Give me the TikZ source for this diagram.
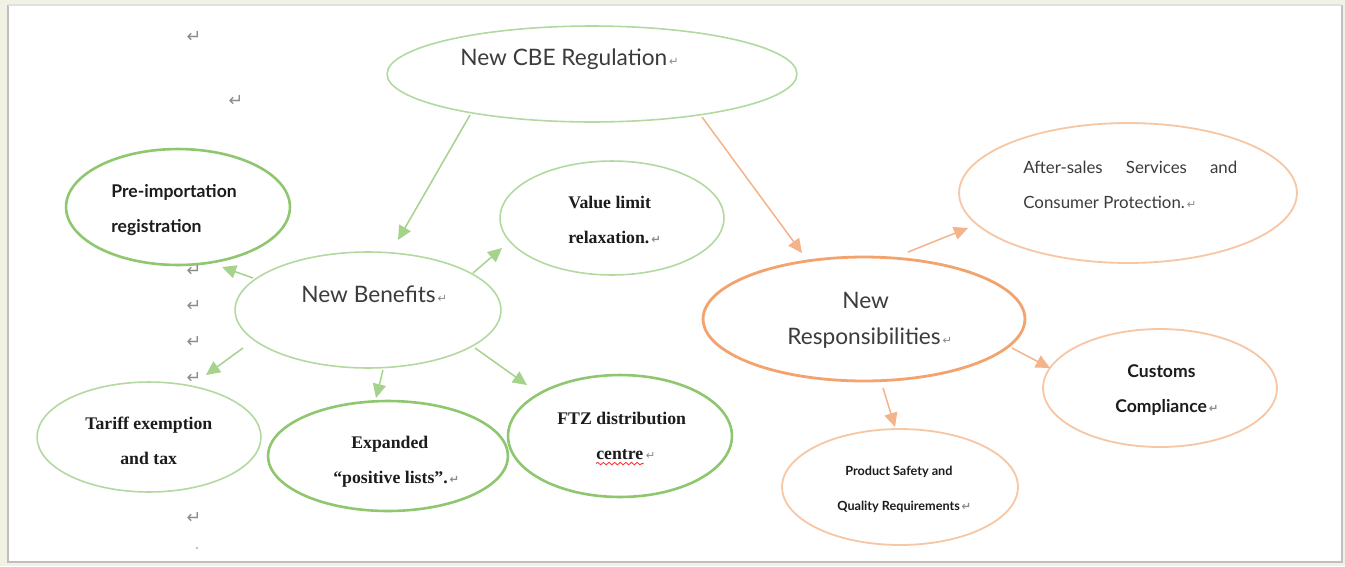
\documentclass[tikz,border=0pt]{standalone}
\usepackage{fontspec}
\setmainfont{Lato}
\newfontfamily\serifb{Liberation Serif}
\newfontfamily\symfont{DejaVu Sans}
\usetikzlibrary{shapes.geometric,arrows.meta,decorations.pathmorphing}
\definecolor{cream}{HTML}{F2F2E4}
\definecolor{lgreen}{HTML}{B3D9A0}
\definecolor{mgreen}{HTML}{8FC770}
\definecolor{agreen}{HTML}{A5D38C}
\definecolor{dorange}{HTML}{F2A36E}
\definecolor{lorange}{HTML}{F7C6A3}
\definecolor{aorange}{HTML}{F5B38A}
\definecolor{tgray}{HTML}{3C3C3C}
\definecolor{tblack}{HTML}{1C1C1C}
\definecolor{pmgray}{HTML}{8C8C8C}
\newcommand\retmark{{\symfont\fontsize{6.5}{6.5}\selectfont\color{pmgray}\,↵}}
\begin{document}
\begin{tikzpicture}[x=0.02cm,y=-0.02cm,
  ellsize/.style 2 args={ellipse, inner sep=0pt, minimum width=#1*0.04cm, minimum height=#2*0.04cm},
  gthin/.style={draw=lgreen, line width=1.6pt*0.569},
  gthick/.style={draw=mgreen, line width=2.6pt*0.569},
  othick/.style={draw=dorange, line width=2.8pt*0.569},
  othin/.style={draw=lorange, line width=1.8pt*0.569},
  garr/.style={draw=agreen, line width=0.85pt, -{Triangle[length=8pt,width=7.5pt]}},
  oarr/.style={draw=aorange, line width=0.85pt, -{Triangle[length=8pt,width=7.5pt]}},
  tbig/.style={font=\fontsize{12.9}{15}\selectfont, text=tgray, inner sep=0pt, anchor=base west},
  tmid/.style={font=\fontsize{9.6}{11}\selectfont, text=tgray, inner sep=0pt, anchor=base west},
  bsans/.style={font=\bfseries\fontsize{10}{12}\selectfont, text=tblack, inner sep=0pt, anchor=base west},
  bsmall/.style={font=\bfseries\fontsize{7.2}{9}\selectfont, text=tblack, inner sep=0pt, anchor=base west},
  bserif/.style={font=\serifb\bfseries\fontsize{10.1}{12}\selectfont, text=tblack, inner sep=0pt, anchor=base west},
  rm/.style={font=\symfont\fontsize{10}{10}\selectfont, text=pmgray, inner sep=0pt}
]
% page background
\fill[cream] (0,0) rectangle (1345,566);
\useasboundingbox (0,0) rectangle (1345,566);
\fill[white] (8,5) rectangle (1342,562);
\draw[black!25, line width=1.2pt] (8,5) -- (8,562) -- (1342,562) -- (1342,5);
\draw[black!12, line width=0.8pt] (8,5) -- (1342,5);

% ellipses
\node[gthin, ellsize={205}{48}] (cbe) at (592,74) {};
\node[gthick, ellsize={112}{58}] (pre) at (178,207) {};
\node[gthin, ellsize={112}{57}] (val) at (612,218) {};
\node[gthin, ellsize={133}{58}] (ben) at (368,310) {};
\node[gthin, ellsize={112}{55}] (tar) at (149,437) {};
\node[gthick, ellsize={120}{55}] (exp) at (388,456) {};
\node[gthick, ellsize={112}{61}] (ftz) at (620,436) {};
\node[othick, ellsize={161}{62}] (resp) at (864,319) {};
\node[othin, ellsize={169}{70}] (aft) at (1128,193) {};
\node[othin, ellsize={117}{59}] (cus) at (1160,388) {};
\node[othin, ellsize={118}{58}] (prod) at (900,487) {};

% texts
\node[tbig] (cbet) at (460,65) {New CBE Regulation\retmark};
\node[tbig] (bent) at (301,302) {New Benefits\retmark};
\node[tbig] (respa) at (842,308) {New};
\node[tbig] (respb) at (787,344) {Responsibilities\retmark};
\node[tmid] (afta) at (1023,173) {\makebox[4.28cm][l]{After-sales\hfill Services\hfill and}};
\node[tmid] (aftb) at (1023,208) {Consumer Protection.\retmark};
\node[bsans] (prea) at (111,197) {Pre-importation};
\node[bsans] (preb) at (111,232) {registration};
\node[bserif] (vala) at (568,208) {Value limit};
\node[bserif] (valb) at (568,243) {relaxation.\retmark};
\node[bserif] (tara) at (85,429) {Tariff exemption};
\node[bserif] (tarb) at (120,464) {and tax};
\node[bserif] (expa) at (351,448) {Expanded};
\node[bserif] (expb) at (333,483) {“positive lists”.\retmark};
\node[bserif] (ftza) at (557,424) {FTZ distribution};
\node[bserif] (ftzb) at (596,459) {centre};
\node[inner sep=0pt, anchor=base west] (ftzm) at (ftzb.base east) {\retmark};
\draw[red!80, line width=0.5pt, decorate, decoration={snake, amplitude=0.7pt, segment length=3.2pt}]
  ([yshift=-2.6pt]ftzb.base west) -- ([yshift=-2.6pt]ftzb.base east);
\node[bsans] (cusa) at (1127,377) {Customs};
\node[bsans] (cusb) at (1115,412) {Compliance\retmark};
\node[bsmall] (proda) at (845,475) {Product Safety and};
\node[bsmall] (prodb) at (837,510) {Quality Requirements\retmark};

% stray paragraph marks
\node[rm] (r1) at (194,37) {↵};
\node[rm] (r2) at (236,101) {↵};
\node[rm] (r3) at (194,271) {↵};
\node[rm] (r4) at (194,306) {↵};
\node[rm] (r5) at (194,342) {↵};
\node[rm] (r6) at (194,378) {↵};
\node[rm] (r7) at (194,518) {↵};
\fill[pmgray!70] (197,548) circle (0.6pt);

% connectors
\draw[garr] ([shift={(-122,41)}]cbe.center) -- ([shift={(30,-70)}]ben.center);
\draw[oarr] ([shift={(110,43)}]cbe.center) -- ([shift={(-62,-66)}]resp.center);
\draw[garr] ([shift={(-115,-32)}]ben.center) -- ([shift={(44,60)}]pre.center);
\draw[garr] ([shift={(105,-37)}]ben.center) -- ([shift={(-110,30)}]val.center);
\draw[garr] ([shift={(-125,38)}]ben.center) -- ([shift={(57,-62)}]tar.center);
\draw[garr] ([shift={(15,60)}]ben.center) -- ([shift={(-12,-58)}]exp.center);
\draw[garr] ([shift={(107,38)}]ben.center) -- ([shift={(-93,-51)}]ftz.center);
\draw[oarr] ([shift={(44,-67)}]resp.center) -- ([shift={(-160,35)}]aft.center);
\draw[oarr] ([shift={(148,29)}]resp.center) -- ([shift={(-110,-20)}]cus.center);
\draw[oarr] ([shift={(19,69)}]resp.center) -- ([shift={(-5,-60)}]prod.center);
\end{tikzpicture}
\end{document}
